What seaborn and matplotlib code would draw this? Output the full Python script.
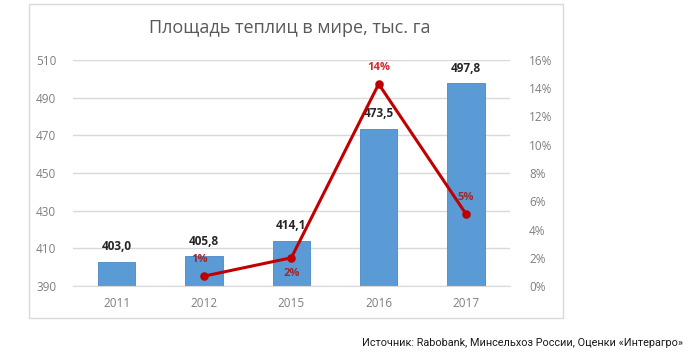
import matplotlib
matplotlib.use("Agg")
import matplotlib.pyplot as plt
import seaborn as sns
import pandas as pd
import numpy as np
from matplotlib.patches import Rectangle
from matplotlib.ticker import FuncFormatter

years = ["2011", "2012", "2015", "2016", "2017"]
area = [403.0, 405.8, 414.1, 473.5, 497.8]
growth = [np.nan, 0.7, 2.0, 14.3, 5.1]
growth_labels = ["", "1%", "2%", "14%", "5%"]
area_labels = ["403,0", "405,8", "414,1", "473,5", "497,8"]
left_ticks = [390, 410, 430, 450, 470, 490, 510]
right_ticks = [0, 2, 4, 6, 8, 10, 12, 14, 16]
title = "Площадь теплиц в мире, тыс. га"
source = "Источник: Rabobank, Минсельхоз России, Оценки «Интерагро»"

sns.set_style("white")
plt.rcParams["font.family"] = ["Open Sans", "DejaVu Sans"]

df = pd.DataFrame({"year": years, "area": area, "growth": growth})

fig = plt.figure(figsize=(6.91, 3.59), dpi=100)
ax = fig.add_axes([0.1056, 0.2033, 0.632, 0.6296])

# outer chart frame
fig.patches.append(Rectangle((29 / 691, 1 - 318 / 359), (563 - 29) / 691, (318 - 4) / 359,
                             transform=fig.transFigure, fill=False, edgecolor="#D9D9D9", lw=1))

sns.barplot(data=df, x="year", y="area", order=years, color="#5B9BD5", saturation=1, width=0.43,
            edgecolor="#4A89C5", linewidth=0.6, ax=ax, zorder=2)
ax.set_ylim(390, 510)
ax.set_yticks(left_ticks)
ax.yaxis.grid(True, color="#D9D9D9", lw=1)
ax.set_axisbelow(True)
for s in ["top", "right", "left"]:
    ax.spines[s].set_visible(False)
ax.spines["bottom"].set_color("#D9D9D9")
ax.tick_params(axis="both", length=0, labelsize=8.5, colors="#7F7F7F")
ax.tick_params(axis="x", pad=8)
ax.tick_params(axis="y", pad=12)
ax.set_xlabel("")
ax.set_ylabel("")

for p, lab in zip(ax.patches, area_labels):
    ax.annotate(lab, (p.get_x() + p.get_width() / 2, p.get_height()),
                xytext=(0, 6), textcoords="offset points", ha="center", va="bottom",
                fontsize=8.5, fontweight="bold", color="#262626")

ax2 = ax.twinx()
sns.pointplot(data=df, x="year", y="growth", order=years, color="#C00000", markers="o",
              linestyles="-", markersize=4.5, linewidth=2.2, ax=ax2, zorder=5)
ax2.set_ylim(0, 16)
ax2.set_yticks(right_ticks)
ax2.yaxis.set_major_formatter(FuncFormatter(lambda v, _: f"{int(v)}%"))
for s in ["top", "right", "left", "bottom"]:
    ax2.spines[s].set_visible(False)
ax2.tick_params(axis="y", length=0, labelsize=8.5, colors="#7F7F7F", pad=14)
ax2.set_ylabel("")
ax2.set_xlabel("")
ax2.set_xlim(ax.get_xlim())

offsets = [(0, 0), (-3, 8), (0, -15), (0, 8), (0, 8)]
colors = ["#A0282D", "#A0282D", "#A0282D", "#D42A2A", "#A0282D"]
for i, (g, lab) in enumerate(zip(growth, growth_labels)):
    if lab:
        ax2.annotate(lab, (i, g), xytext=offsets[i], textcoords="offset points",
                     ha="center", va="bottom", fontsize=8, fontweight="bold", color=colors[i])

fig.text(290 / 691, 1 - 28 / 359, title, ha="center", va="center", fontsize=13, color="#595959")
fig.text(683 / 691, 1 - 343 / 359, source, ha="right", va="center", fontsize=7.8,
         color="#1a1a1a", family=["Roboto", "Open Sans", "DejaVu Sans"])

fig.savefig("out.png", dpi=100)
